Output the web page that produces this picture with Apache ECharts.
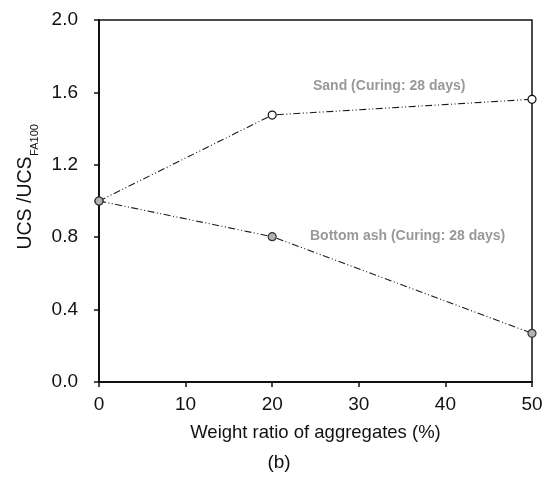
<!DOCTYPE html>
<html><head><meta charset="utf-8">
<script src="https://cdn.jsdelivr.net/npm/echarts@6/dist/echarts.min.js"></script>
<style>html,body{margin:0;padding:0;background:#fff}#c{width:554px;height:482px}</style>
</head><body><div id="c"></div>
<script>
const ratios = [0, 20, 50];
const sandValues = [1.0, 1.475, 1.562];
const ashValues = [1.0, 0.803, 0.269];
const yTicks = [0.0, 0.4, 0.8, 1.2, 1.6, 2.0];
const xTicks = [0, 10, 20, 30, 40, 50];
const sandLabel = 'Sand (Curing: 28 days)';
const ashLabel = 'Bottom ash (Curing: 28 days)';
const xTitle = 'Weight ratio of aggregates (%)';

const font = 'Liberation Sans, Arial, sans-serif';
const dashPat = [7, 2.5, 1, 2.5, 1, 2.5];
const chart = echarts.init(document.getElementById('c'), null, {renderer: 'canvas'});
chart.setOption({
  animation: false,
  backgroundColor: '#fff',
  grid: {left: 99, right: 22, top: 20, bottom: 100, show: true, borderColor: '#111', borderWidth: 1.5},
  xAxis: {
    type: 'value', min: xTicks[0], max: xTicks[xTicks.length - 1], interval: 10,
    name: xTitle, nameLocation: 'middle', nameGap: 41,
    nameTextStyle: {fontFamily: font, fontSize: 18.5, color: '#111'},
    axisLine: {lineStyle: {color: '#111', width: 2}},
    axisTick: {show: true, length: 5, lineStyle: {color: '#111', width: 1.5}},
    axisLabel: {fontFamily: font, fontSize: 19, color: '#111', margin: 13},
    splitLine: {show: false}
  },
  yAxis: {
    type: 'value', min: yTicks[0], max: yTicks[yTicks.length - 1], interval: 0.4,
    axisLine: {show: true, lineStyle: {color: '#111', width: 2}},
    axisTick: {show: true, length: 5, lineStyle: {color: '#111', width: 1.5}},
    axisLabel: {fontFamily: font, fontSize: 19, color: '#111', margin: 21,
      formatter: v => v.toFixed(1)},
    splitLine: {show: false}
  },
  series: [
    {
      type: 'line', data: ratios.map((x, i) => [x, sandValues[i]]),
      symbol: 'circle', symbolSize: 8,
      itemStyle: {color: '#fff', borderColor: '#111', borderWidth: 1.2},
      lineStyle: {color: '#1a1a1a', width: 1.1, type: dashPat},
      z: 2
    },
    {
      type: 'line', data: ratios.map((x, i) => [x, ashValues[i]]),
      symbol: 'circle', symbolSize: 8,
      itemStyle: {color: '#b3b3b3', borderColor: '#333', borderWidth: 1.2},
      lineStyle: {color: '#1a1a1a', width: 1.1, type: dashPat},
      z: 3
    }
  ],
  graphic: [
    {type: 'text', left: 313, top: 79, style: {text: sandLabel, font: 'bold 14px ' + font, fill: '#999'}},
    {type: 'text', left: 310, top: 229, style: {text: ashLabel, font: 'bold 14px ' + font, fill: '#999'}},
    {type: 'text', x: 26, y: 203, rotation: Math.PI / 2,
      style: {text: 'UCS /UCS', font: '19.5px ' + font, fill: '#111', align: 'center', verticalAlign: 'middle'}},
    {type: 'text', x: 35, y: 140, rotation: Math.PI / 2,
      style: {text: 'FA100', font: '11px ' + font, fill: '#111', align: 'center', verticalAlign: 'middle'}},
    {type: 'text', x: 279, y: 463,
      style: {text: '(b)', font: '19px ' + font, fill: '#111', align: 'center', verticalAlign: 'middle'}}
  ]
});
</script></body></html>
